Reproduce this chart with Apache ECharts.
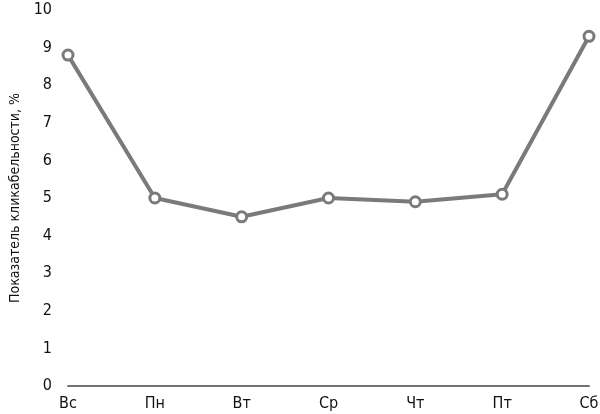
<!DOCTYPE html>
<html>
<head>
<meta charset="utf-8">
<script src="https://cdn.jsdelivr.net/npm/echarts@6/dist/echarts.min.js"></script>
<style>html,body{margin:0;padding:0;background:#fff}#c{width:600px;height:414px}</style>
</head>
<body>
<div id="c"></div>
<script>
var categories = ['Вс', 'Пн', 'Вт', 'Ср', 'Чт', 'Пт', 'Сб'];
var values = [8.8, 5.0, 4.5, 5.0, 4.9, 5.1, 9.3];
var yTicks = [0, 1, 2, 3, 4, 5, 6, 7, 8, 9, 10];
var yName = 'Показатель кликабельности, %';

var FONT = '"Liberation Sans Narrow", "DejaVu Sans Condensed", "Roboto Condensed", sans-serif';
var chart = echarts.init(document.getElementById('c'));
chart.setOption({
  animation: false,
  grid: { left: 68, right: 11, top: 10, bottom: 28, containLabel: false, outerBoundsMode: 'none' },
  xAxis: {
    type: 'category',
    data: categories,
    boundaryGap: false,
    axisLine: { show: true, lineStyle: { color: '#727272', width: 2 } },
    axisTick: { show: false },
    axisLabel: { color: '#111', fontSize: 16, fontFamily: FONT, margin: 10 },
    splitLine: { show: false }
  },
  yAxis: {
    type: 'value',
    min: yTicks[0],
    max: yTicks[yTicks.length - 1],
    interval: 1,
    name: yName,
    nameLocation: 'middle',
    nameGap: 45,
    nameTextStyle: { color: '#111', fontSize: 14, fontFamily: FONT },
    axisLine: { show: false },
    axisTick: { show: false },
    axisLabel: { color: '#111', fontSize: 16, fontFamily: FONT, margin: 16 },
    splitLine: { show: false }
  },
  series: [{
    type: 'line',
    data: values,
    symbol: 'circle',
    symbolSize: 10,
    lineStyle: { color: '#7a7a7a', width: 4 },
    itemStyle: { color: '#ffffff', borderColor: '#7a7a7a', borderWidth: 3 }
  }]
});
</script>
</body>
</html>
